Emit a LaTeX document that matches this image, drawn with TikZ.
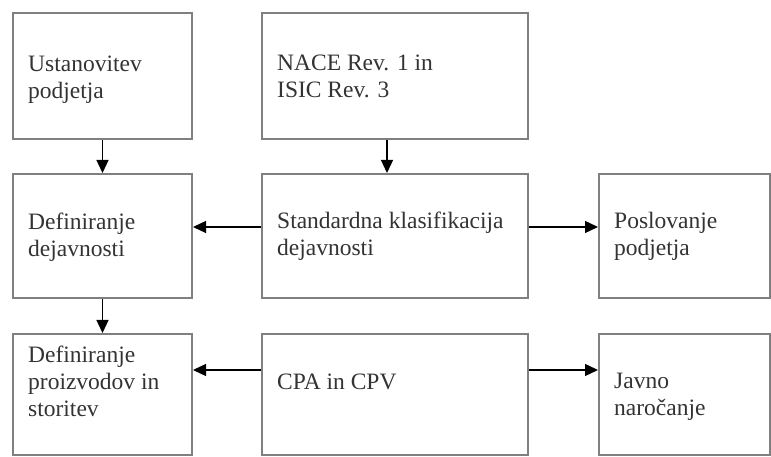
\documentclass[tikz,border=0pt]{standalone}
\usepackage{fontspec}
\setmainfont{Liberation Serif}
\usetikzlibrary{arrows.meta}
\definecolor{boxGray}{rgb}{0.5,0.5,0.5}
\definecolor{textGray}{rgb}{0.2,0.2,0.2}

\begin{document}
\begin{tikzpicture}[x=1pt,y=1pt,
  box/.style={draw=boxGray,line width=2pt,inner sep=0pt},
  lbl/.style={anchor=base west,align=left,inner sep=0pt,text=textGray,font=\fontsize{23.5}{27}\selectfont},
  arr/.style={-{Triangle[length=13pt,width=12pt]},line width=1.3pt}]
	\useasboundingbox (0,0) rectangle (771,457);
	% first row
	\node[box,minimum width=179pt,minimum height=126pt] (ustanovitev) at (102.5,381) {};
	\node[box,minimum width=266pt,minimum height=126pt] (nace) at (395,381) {};
	% second row
	\node[box,minimum width=179pt,minimum height=124pt] (definiranje) at (102.5,221) {};
	\node[box,minimum width=266pt,minimum height=124pt] (klasifikacija) at (395,221) {};
	\node[box,minimum width=171pt,minimum height=124pt] (poslovanje) at (684.5,221) {};
	% third row
	\node[box,minimum width=179pt,minimum height=121pt] (proizvodi) at (102.5,62.5) {};
	\node[box,minimum width=266pt,minimum height=121pt] (cpa) at (395,62.5) {};
	\node[box,minimum width=171pt,minimum height=121pt] (narocanje) at (684.5,62.5) {};
	% texts (anchored at the last line)
	\node[lbl] (tUstanovitev) at ([xshift=16pt,yshift=-87pt]ustanovitev.north west) {Ustanovitev\\podjetja};
	\node[lbl] (tNace) at ([xshift=16pt,yshift=-86pt]nace.north west) {NACE Rev. 1 in\\ISIC Rev. 3};
	\node[lbl] (tDefiniranje) at ([xshift=16pt,yshift=-84pt]definiranje.north west) {Definiranje\\dejavnosti};
	\node[lbl] (tKlasifikacija) at ([xshift=16pt,yshift=-83pt]klasifikacija.north west) {Standardna klasifikacija\\dejavnosti};
	\node[lbl] (tPoslovanje) at ([xshift=16pt,yshift=-83pt]poslovanje.north west) {Poslovanje\\podjetja};
	\node[lbl] (tProizvodi) at ([xshift=16pt,yshift=-84pt]proizvodi.north west) {Definiranje\\proizvodov in\\storitev};
	\node[lbl] (tCpa) at ([xshift=16pt,yshift=-57pt]cpa.north west) {CPA in CPV};
	\node[lbl] (tNarocanje) at ([xshift=16pt,yshift=-83pt]narocanje.north west) {Javno\\naročanje};
	% arrows
	\draw[arr] (ustanovitev) -- (definiranje);
	\draw[arr] ([xshift=-8pt]nace.south) -- ([xshift=-8pt]klasifikacija.north);
	\draw[arr] (definiranje) -- (proizvodi);
	\draw[arr] ([yshift=9pt]klasifikacija.west) -- ([yshift=9pt]definiranje.east);
	\draw[arr] ([yshift=9pt]klasifikacija.east) -- ([yshift=9pt]poslovanje.west);
	\draw[arr] ([yshift=24.5pt]cpa.west) -- ([yshift=24.5pt]proizvodi.east);
	\draw[arr] ([yshift=24.5pt]cpa.east) -- ([yshift=24.5pt]narocanje.west);
\end{tikzpicture}
\end{document}
